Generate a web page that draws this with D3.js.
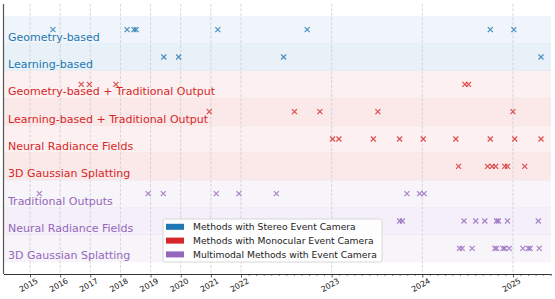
<!DOCTYPE html>
<html><head><meta charset="utf-8">
<script src="https://cdn.jsdelivr.net/npm/d3@7"></script>
<style>body{margin:0;background:#fff}svg{display:block;font-family:"DejaVu Sans",sans-serif}</style>
</head><body><svg id="c" width="555" height="299"></svg>
<script>
// ---- data ----
const categories = ["Geometry-based","Learning-based","Geometry-based + Traditional Output","Learning-based + Traditional Output","Neural Radiance Fields","3D Gaussian Splatting","Traditional Outputs","Neural Radiance Fields","3D Gaussian Splatting"];
const categoryGroup = [0,0,1,1,1,1,2,2,2];
const groupNames = ["Methods with Stereo Event Camera","Methods with Monocular Event Camera","Multimodal Methods with Event Camera"];
const groupColors = ["#1f77b4","#d62728","#9467bd"];
const yearTicks = [2015,2016,2017,2018,2019,2020,2021,2022,2023,2024,2025];
// publication dates (decimal years) per row
const rowGeometry = [2015.76,2018.22,2018.45,2018.52,2021.23,2022.73,2024.75,2025.01];
const rowLearning = [2019.44,2019.93,2022.47,2025.31];
const rowGeoTrad = [2016.70,2016.97,2017.85,2024.47,2024.51];
const rowLearnTrad = [2020.95,2022.59,2022.87,2023.51,2025.00];
const rowMonoNerf = [2023.01,2023.08,2023.46,2023.75,2024.01,2024.37,2024.75,2025.02,2025.31];
const rowMono3dgs = [2024.40,2024.72,2024.77,2024.81,2024.91,2024.94,2025.13];
const rowMultiTrad = [2015.31,2018.92,2019.42,2021.18,2021.93,2022.39,2023.83,2023.97,2024.02];
const rowMultiNerf = [2023.75,2023.78,2024.46,2024.59,2024.69,2024.82,2024.84,2024.94,2025.28];
const rowMulti3dgs = [2024.41,2024.44,2024.55,2024.80,2024.82,2024.89,2024.91,2024.96,2025.11,2025.17,2025.19,2025.29];
const rows = [rowGeometry,rowLearning,rowGeoTrad,rowLearnTrad,rowMonoNerf,rowMono3dgs,rowMultiTrad,rowMultiNerf,rowMulti3dgs];

// ---- layout ----
const svg = d3.select("#c");
const L = 3.5, R = 551, T = 4, B = 274;
const x = d3.scaleLinear().domain([2014.12, 2022, 2025.42]).range([L, 241, R]);
const y = d3.scaleBand().domain(d3.range(categories.length)).range([16, 262]);

// bands
svg.append("g").selectAll("rect").data(categories).join("rect")
  .attr("x", L).attr("width", R - L)
  .attr("y", (d,i)=>y(i)).attr("height", y.bandwidth()+0.3)
  .attr("fill", (d,i)=>groupColors[categoryGroup[i]])
  .attr("fill-opacity", (d,i)=> i%2===0 ? 0.07 : 0.105);

// grid
svg.append("g").selectAll("line").data(yearTicks).join("line")
  .attr("x1", d=>x(d)).attr("x2", d=>x(d)).attr("y1", T).attr("y2", B)
  .attr("stroke", "#cfcfcf").attr("stroke-width", 0.8).attr("stroke-dasharray", "3,1.5");

// labels
svg.append("g").selectAll("text").data(categories).join("text")
  .attr("x", 8).attr("y", (d,i)=>y(i)+y.bandwidth()/2+11)
  .attr("font-size", 11).attr("fill", (d,i)=>groupColors[categoryGroup[i]])
  .text(d=>d);

// markers
const pts = rows.flatMap((r,i)=>r.map(v=>({v,i})));
const ms = 2.5;
const mg = svg.append("g");
pts.forEach(p=>{
  const cx = x(p.v), cy = y(p.i)+y.bandwidth()/2;
  mg.append("path")
    .attr("d", `M${cx-ms},${cy-ms}L${cx+ms},${cy+ms}M${cx-ms},${cy+ms}L${cx+ms},${cy-ms}`)
    .attr("stroke", groupColors[categoryGroup[p.i]]).attr("stroke-width", 1.2)
    .attr("stroke-opacity", 0.8).attr("fill", "none");
});

// legend
const lg = svg.append("g");
lg.append("rect").attr("x", 163).attr("y", 219).attr("width", 219).attr("height", 43)
  .attr("rx", 2).attr("fill", "#fff").attr("fill-opacity", 0.85).attr("stroke", "#d0d0d0").attr("stroke-width", 0.8);
groupNames.forEach((g,i)=>{
  const cy = 226.8 + i*13.8;
  lg.append("rect").attr("x", 166).attr("y", cy-3).attr("width", 18).attr("height", 6).attr("fill", groupColors[i]);
  lg.append("text").attr("x", 193).attr("y", cy).attr("dy", "0.35em").attr("font-size", 9.2).attr("fill", "#222").text(g);
});

// axes
const monthTicks = d3.range(2022*12+1, Math.floor(2025.42*12)+1).map(m=>m/12).filter(v=>Math.abs(v-Math.round(v))>1e-6);
svg.append("g").attr("transform", `translate(0,${B})`)
  .call(d3.axisBottom(x).tickValues(monthTicks).tickSize(2).tickFormat(""))
  .call(g=>g.select(".domain").remove())
  .call(g=>g.selectAll("line").attr("stroke", "#444").attr("stroke-width", 0.6));
const xa = svg.append("g").attr("transform", `translate(0,${B})`)
  .call(d3.axisBottom(x).tickValues(yearTicks).tickSize(3.5).tickFormat(d3.format("d")).tickSizeOuter(0));
xa.select(".domain").attr("stroke", "#333").attr("stroke-width", 1);
xa.selectAll(".tick line").attr("stroke", "#333").attr("stroke-width", 0.8);
xa.selectAll("text").attr("y", 0).attr("dy", "0.35em").attr("font-size", 7.8).attr("fill", "#111")
  .attr("font-family", "DejaVu Sans").attr("text-anchor", "middle")
  .attr("transform", "translate(-2,11) rotate(-30)");
// left spine
svg.append("line").attr("x1", L).attr("x2", L).attr("y1", T).attr("y2", B)
  .attr("stroke", "#555").attr("stroke-width", 1.2);
</script></body></html>
